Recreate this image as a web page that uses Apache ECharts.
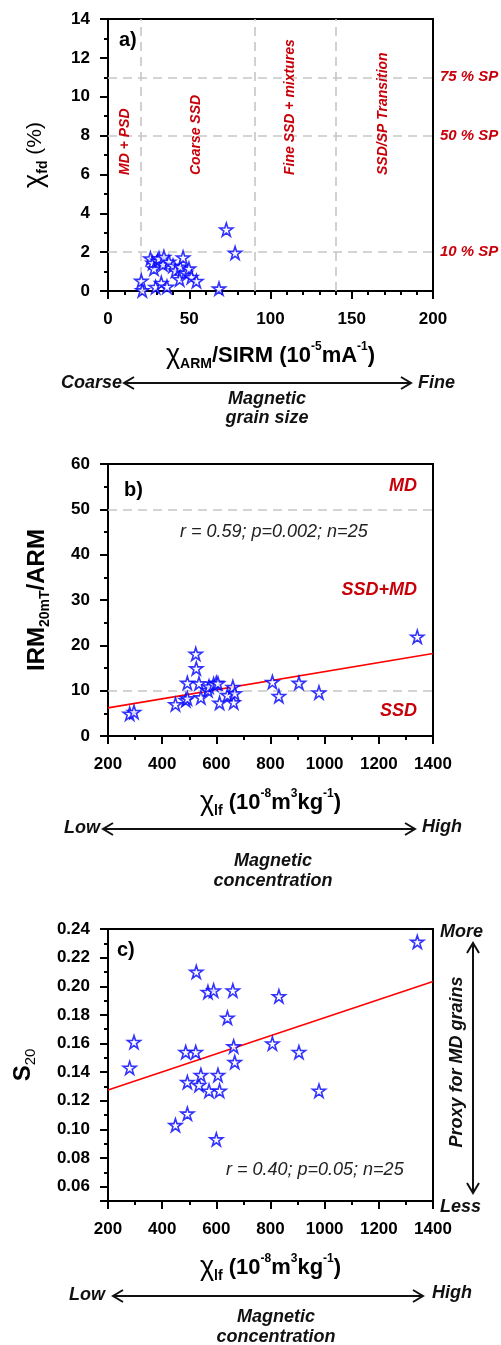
<!DOCTYPE html>
<html><head><meta charset="utf-8">
<script src="https://cdn.jsdelivr.net/npm/echarts@6/dist/echarts.min.js"></script>
<style>html,body{margin:0;padding:0;background:#fff}#c{width:501px;height:1345px}</style>
</head><body><div id="c"></div>
<script>
// ---- Panel a data ----
const armSirm = [20.5,21.1,26.1,27.5,28.3,29.3,30.5,31.4,32.8,33.8,34.4,36.3,37.5,40,41.5,44.1,44.5,46.2,47.8,49.8,51.3,54.4,68.3,72.8,78.2];
const chiFd   = [0.52,0.03,1.67,1.45,1.15,0.2,1.55,1.67,0.41,1.37,1.75,0.22,1.5,1.3,1.05,0.6,1.24,1.72,0.94,1.15,0.72,0.51,0.12,3.16,1.96];
const grainLines = [20, 90, 140];
const spLevels = [2, 8, 11];
const spLabels = ['10 % SP', '50 % SP', '75 % SP'];
const regionLabels = ['MD + PSD', 'Coarse SSD', 'Fine SSD + mixtures', 'SSD/SP Transition'];
// ---- Panels b and c data (shared x) ----
const chiLf  = [280,296,449,487,493,493,524,526,536,543,569,573,590,600,606,612,641,661,664,668,807,831,905,979,1342];
const irmArm = [4.9,5.3,7.0,7.9,8.3,11.7,18.1,14.9,11.6,8.5,10.1,10.9,11.4,11.7,11.6,7.3,9.0,10.8,7.4,9.4,11.9,8.8,11.7,9.6,21.9];
const s20    = [0.143,0.161,0.103,0.154,0.133,0.111,0.154,0.210,0.131,0.138,0.196,0.127,0.197,0.093,0.138,0.127,0.178,0.197,0.158,0.147,0.160,0.193,0.154,0.127,0.231];
const irmLevels = [50, 10];
const trendX = [200, 1400];
const trendB = [6.2, 18.2];
const trendC = [0.1276, 0.2034];

const FONT = 'Liberation Sans, Arial, sans-serif';
const RED = '#c8000a';
const STAR = 'path://M50,0 L61.2,34.5 L97.6,34.5 L68.2,55.9 L79.4,90.5 L50,69.1 L20.6,90.5 L31.8,55.9 L2.4,34.5 L38.8,34.5 Z';

const RICH = {
  chi: { fontFamily: FONT, fontSize: 27, fontWeight: 'normal', color: '#000', lineHeight: 30 },
  b:   { fontFamily: FONT, fontSize: 22, fontWeight: 'bold', color: '#000', lineHeight: 30 },
  n:   { fontFamily: FONT, fontSize: 21, fontWeight: 'normal', color: '#000', lineHeight: 30 },
  big: { fontFamily: FONT, fontSize: 24, fontWeight: 'bold', color: '#000', lineHeight: 30 },
  sub: { fontFamily: FONT, fontSize: 14, fontWeight: 'bold', color: '#000', lineHeight: 17, verticalAlign: 'bottom' },
  subn:{ fontFamily: FONT, fontSize: 15, fontWeight: 'normal', color: '#000', lineHeight: 17, verticalAlign: 'bottom' },
  sup: { fontFamily: FONT, fontSize: 12, fontWeight: 'bold', color: '#000', lineHeight: 14, verticalAlign: 'top' }
};

function axis(o) {
  return {
    type: 'value', gridIndex: o.g, min: o.min, max: o.max, interval: o.interval, splitNumber: o.splitNumber,
    name: o.name, nameLocation: 'middle', nameGap: o.nameGap,
    nameTextStyle: { rich: RICH, fontFamily: FONT, color: '#000' },
    axisLine: { show: true, onZero: false, lineStyle: { color: '#000', width: 2 } },
    axisTick: { show: true, inside: false, length: 8, lineStyle: { color: '#000', width: 2 } },
    minorTick: { show: true, splitNumber: o.minor, length: 4, lineStyle: { color: '#000', width: 2 } },
    splitLine: { show: false }, minorSplitLine: { show: false },
    axisLabel: Object.assign({ color: '#000', fontFamily: FONT, fontWeight: 'bold', fontSize: 17, margin: o.margin || 12,
      formatter: v => String(v) }, o.label || {})
  };
}

const starStyle = { color: '#ffffff', borderColor: '#0000ff', borderWidth: 1.6 };
const dash = { type: [9, 6], color: '#c6c6c6', width: 1.6 };

function txt(text, x, y, o) {
  o = o || {};
  return {
    type: 'text', x: x, y: y, rotation: o.rot || 0, z: 100,
    style: {
      text: text, fill: o.color || '#111',
      font: (o.font || 'italic bold 18px') + ' ' + FONT,
      textAlign: o.align || 'center', textVerticalAlign: o.va || 'middle',
      align: o.align || 'center', verticalAlign: o.va || 'middle'
    }
  };
}
function hArrow(x1, x2, y) {
  const s = { stroke: '#111', lineWidth: 2, fill: null };
  return [
    { type: 'line', shape: { x1: x1, y1: y, x2: x2, y2: y }, style: s },
    { type: 'polyline', shape: { points: [[x1 + 10, y - 6], [x1, y], [x1 + 10, y + 6]] }, style: s },
    { type: 'polyline', shape: { points: [[x2 - 10, y - 6], [x2, y], [x2 - 10, y + 6]] }, style: s }
  ];
}
function vArrow(x, y1, y2) {
  const s = { stroke: '#111', lineWidth: 2, fill: null };
  return [
    { type: 'line', shape: { x1: x, y1: y1, x2: x, y2: y2 }, style: s },
    { type: 'polyline', shape: { points: [[x - 6, y1 + 10], [x, y1], [x + 6, y1 + 10]] }, style: s },
    { type: 'polyline', shape: { points: [[x - 6, y2 - 10], [x, y2], [x + 6, y2 - 10]] }, style: s }
  ];
}

const regionX = [10.3, 54, 112, 169];
const regionGraphics = regionLabels.map((t, i) =>
  txt(t, 108.3 + regionX[i] * 1.625, 175, { rot: Math.PI / 2, align: 'left', color: RED, font: 'italic bold 14px' }));

const option = {
  animation: false,
  backgroundColor: '#fff',
  grid: [
    { left: 108, right: 68, top: 19, height: 272, show: true, borderColor: '#000', borderWidth: 2, backgroundColor: 'transparent' },
    { left: 108, right: 68, top: 464, height: 272, show: true, borderColor: '#000', borderWidth: 2, backgroundColor: 'transparent' },
    { left: 108, right: 68, top: 929, height: 272, show: true, borderColor: '#000', borderWidth: 2, backgroundColor: 'transparent' }
  ],
  xAxis: [
    axis({ g: 0, min: 0, max: 200, interval: 50, minor: 5, margin: 20, nameGap: 50,
      name: '{chi|χ}{sub|ARM}{b|/SIRM (10}{sup|-5}{b|mA}{sup|-1}{b|)}' }),
    axis({ g: 1, min: 200, max: 1400, interval: 200, minor: 2, margin: 20, nameGap: 52,
      name: '{chi|χ}{sub|lf}{b| (10}{sup|-8}{b|m}{sup|3}{b|kg}{sup|-1}{b|)}' }),
    axis({ g: 2, min: 200, max: 1400, interval: 200, minor: 2, margin: 20, nameGap: 52,
      name: '{chi|χ}{sub|lf}{b| (10}{sup|-8}{b|m}{sup|3}{b|kg}{sup|-1}{b|)}' })
  ],
  yAxis: [
    axis({ g: 0, min: 0, max: 14, interval: 2, minor: 2, margin: 18, nameGap: 58,
      name: '{chi|χ}{sub|fd}{n| (%)}' }),
    axis({ g: 1, min: 0, max: 60, interval: 10, minor: 2, margin: 18, nameGap: 56,
      name: '{big|IRM}{sub|20mT}{big|/ARM}' }),
    axis({ g: 2, min: 0.05, max: 0.24, splitNumber: 10, minor: 2, margin: 18, nameGap: 70,
      label: { showMinLabel: false, formatter: v => (Math.abs(v * 100 - Math.round(v * 100)) < 1e-6 && Math.round(v * 100) % 2 === 0) ? v.toFixed(2) : '' },
      name: '{big|S}{subn|20}' })
  ],
  series: [
    {
      type: 'scatter', xAxisIndex: 0, yAxisIndex: 0, symbol: STAR, symbolSize: 13, itemStyle: starStyle,
      data: armSirm.map((x, i) => [x, chiFd[i]]), z: 5,
      markLine: {
        silent: true, symbol: 'none', lineStyle: dash, animation: false,
        label: { show: false },
        data: grainLines.map(v => ({ xAxis: v })).concat(spLevels.map((v, i) => ({
          yAxis: v,
          label: { show: true, position: 'end', distance: 7, formatter: spLabels[i], color: RED,
            fontFamily: FONT, fontWeight: 'bold', fontStyle: 'italic', fontSize: 15 }
        })))
      }
    },
    {
      type: 'line', xAxisIndex: 1, yAxisIndex: 1, showSymbol: false, symbol: 'none',
      lineStyle: { color: '#ff0000', width: 1.6 }, data: trendX.map((x, i) => [x, trendB[i]]), z: 3,
      markLine: { silent: true, symbol: 'none', lineStyle: dash, label: { show: false },
        data: irmLevels.map(v => ({ yAxis: v })) }
    },
    {
      type: 'scatter', xAxisIndex: 1, yAxisIndex: 1, symbol: STAR, symbolSize: 13, itemStyle: starStyle,
      data: chiLf.map((x, i) => [x, irmArm[i]]), z: 5
    },
    {
      type: 'line', xAxisIndex: 2, yAxisIndex: 2, showSymbol: false, symbol: 'none',
      lineStyle: { color: '#ff0000', width: 1.6 }, data: trendX.map((x, i) => [x, trendC[i]]), z: 3
    },
    {
      type: 'scatter', xAxisIndex: 2, yAxisIndex: 2, symbol: STAR, symbolSize: 13, itemStyle: starStyle,
      data: chiLf.map((x, i) => [x, s20[i]]), z: 5
    }
  ],
  graphic: [].concat(
    regionGraphics,
    [
      txt('a)', 119, 40, { align: 'left', font: 'bold 20px', color: '#000' }),
      txt('Coarse', 122, 383, { align: 'right' }),
      txt('Fine', 418, 383, { align: 'left' }),
      txt('Magnetic', 267, 399),
      txt('grain size', 267, 418),
      txt('b)', 124, 490, { align: 'left', font: 'bold 20px', color: '#000' }),
      txt('MD', 417, 486, { align: 'right', color: RED }),
      txt('r = 0.59; p=0.002; n=25', 180, 532, { align: 'left', font: 'italic 18px', color: '#222' }),
      txt('SSD+MD', 417, 590, { align: 'right', color: RED }),
      txt('SSD', 417, 711, { align: 'right', color: RED }),
      txt('Low', 100, 828, { align: 'right' }),
      txt('High', 422, 827, { align: 'left' }),
      txt('Magnetic', 273, 861),
      txt('concentration', 273, 881),
      txt('c)', 117, 950, { align: 'left', font: 'bold 20px', color: '#000' }),
      txt('r = 0.40; p=0.05; n=25', 226, 1170, { align: 'left', font: 'italic 18px', color: '#222' }),
      txt('More', 440, 932, { align: 'left' }),
      txt('Less', 440, 1207, { align: 'left' }),
      txt('Proxy for MD grains', 457, 1062, { rot: Math.PI / 2 }),
      txt('Low', 105, 1295, { align: 'right' }),
      txt('High', 432, 1293, { align: 'left' }),
      txt('Magnetic', 276, 1317),
      txt('concentration', 276, 1337)
    ],
    hArrow(124, 411, 383),
    hArrow(103, 415, 829),
    hArrow(113, 423, 1296),
    vArrow(473, 943, 1193)
  )
};
const chart = echarts.init(document.getElementById('c'), null, { renderer: 'canvas' });
chart.setOption(option);
</script>
</body></html>
